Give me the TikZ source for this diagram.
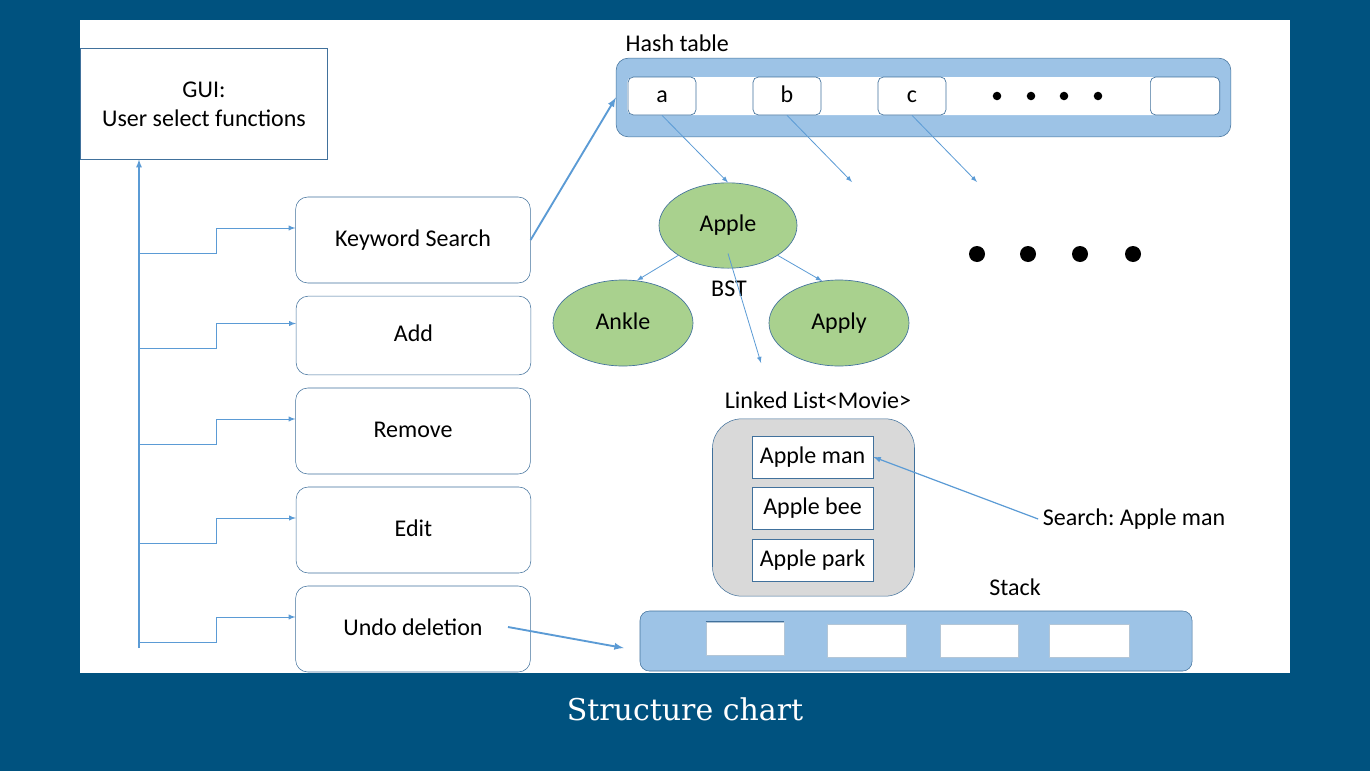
\documentclass[tikz,border=0pt]{standalone}
\usepackage{fontspec}
\setmainfont{Carlito}
\newfontfamily\slabfont{DejaVu Serif}
\usetikzlibrary{shapes.geometric, arrows, positioning, calc}
\definecolor{slideblue}{RGB}{0, 82, 127}
\definecolor{lineblue}{RGB}{91, 155, 213}
\definecolor{edgeblue}{RGB}{65, 113, 156}
\definecolor{tableblue}{RGB}{157, 195, 230}
\definecolor{leafgreen}{RGB}{169, 209, 142}
\definecolor{listgray}{RGB}{217, 217, 217}
\frenchspacing

\begin{document}
\begin{tikzpicture}[x=0.75pt, y=-0.75pt,
    every node/.style={font=\fontsize{18}{22}\selectfont},
    even/.style={text height=12.5pt, text depth=3pt},
    func/.style={rectangle, rounded corners=9pt, draw=edgeblue, fill=white, minimum width=176pt, minimum height=64.5pt, inner sep=0pt, even},
    cell/.style={rectangle, rounded corners=4pt, draw=edgeblue, line width=0.5pt, fill=white, minimum width=51pt, minimum height=28.5pt, inner sep=0pt, even},
    leaf/.style={ellipse, draw=edgeblue, line width=0.5pt, fill=leafgreen, minimum width=105pt, minimum height=64.5pt, inner sep=0pt, even},
    item/.style={rectangle, draw=edgeblue, fill=white, minimum width=91pt, minimum height=31.5pt, inner sep=0pt, even},
    slot/.style={rectangle, draw=edgeblue!40, fill=white, minimum width=59pt, minimum height=25pt, inner sep=0pt},
    branch/.style={-latex, lineblue, line width=0.75pt},
    arrow/.style={-latex, lineblue, line width=0.6pt},
    thickarrow/.style={-latex, lineblue, line width=1.4pt}
]
    % slide
    \fill[slideblue] (0,0) rectangle (1370,771);
    \fill[white] (80,20) rectangle (1290,673);
    \node[text=white, font=\slabfont\fontsize{22.5}{26}\selectfont] (title) at (685,709) {Structure chart};

    % menu
    \node[rectangle, draw=edgeblue, minimum width=185pt, minimum height=83pt, align=center] (gui) at (204,104) {GUI:\\User select functions};
    \node[func] (kw) at (413,240) {Keyword Search};
    \node[func, minimum height=59pt] (add) at (413.5,335.5) {Add};
    \node[func] (remove) at (413,431) {Remove};
    \node[func] (edit) at (413.5,530) {Edit};
    \node[func] (undo) at (413,629) {Undo deletion};

    \coordinate (trunk) at (139,648);
    \draw[branch, line width=1pt] (trunk) -- (trunk |- gui.south);
    \foreach \n in {kw, add, remove, edit, undo} {
        \coordinate (\n-lo) at ($(\n.west)+(0,13)$);
        \coordinate (\n-up) at ($(\n.west)+(0,-12)$);
        \draw[branch] (trunk |- \n-lo) -| ($(\n-up)+(-79,0)$) -- (\n-up);
    }

    % hash table
    \node[anchor=west] (hashlabel) at (621,43) {Hash table};
    \node[rectangle, rounded corners=9pt, draw=edgeblue, fill=tableblue, minimum width=461pt, minimum height=59pt] (hash) at (923.5,97.5) {};
    \node[rectangle, rounded corners=4pt, fill=white, minimum width=443pt, minimum height=28.5pt] (strip) at (922.5,96) {};
    \node[cell] (ca) at (662,96) {a};
    \node[cell] (cb) at (787,96) {b};
    \node[cell] (cc) at (912,96) {c};
    \node[cell, minimum width=52pt] (clast) at (1185,96) {};
    \foreach \x in {997, 1031, 1064, 1098}
        \fill (\x,96) circle (3.2pt);

    % BST
    \node[leaf, minimum width=103.5pt, minimum height=64pt] (apple) at (728,225.5) {Apple};
    \node[leaf] (ankle) at (623,323) {Ankle};
    \node[leaf] (apply) at (839,323) {Apply};
    \node (bst) at (729,289) {BST};
    \foreach \x in {977, 1028, 1080, 1133}
        \fill (\x,254) circle (6pt);

    \coordinate (bend) at (852,182);
    \coordinate (cend) at (977,182);
    \coordinate (listend) at (761,363);
    \draw[arrow] (ca.south) -- (apple.north);
    \draw[arrow] (cb.south) -- (bend);
    \draw[arrow] (cc.south) -- (cend);
    \draw[arrow] (apple.211) -- (ankle.72);
    \draw[arrow] (apple.329) -- (apply.112);
    \draw[arrow] ($(apple.south)+(0,-15)$) -- (listend);

    % linked list
    \node (listlabel) at (818,400) {Linked List<Movie>};
    \node[rectangle, rounded corners=22pt, draw=edgeblue, fill=listgray, minimum width=151.5pt, minimum height=133pt] (list) at (813.5,507.5) {};
    \node[item] (man) at (812.5,457) {Apple man};
    \node[item] (bee) at (812.5,508) {Apple bee};
    \node[item] (park) at (812.5,560) {Apple park};
    \node (search) at (1134,519) {Search: Apple man};
    \draw[arrow, line width=0.9pt] (search.west) -- (man.east);

    % stack
    \node (stacklabel) at (1015,587) {Stack};
    \node[rectangle, rounded corners=7pt, draw=edgeblue, fill=tableblue, minimum width=414pt, minimum height=45pt] (stack) at (916,641) {};
    \node[slot, minimum width=58.5pt] (s1) at (745,638.5) {};
    \draw[edgeblue, line width=0.9pt] (s1.north west) -- (s1.north east);
    \node[slot] (s2) at (866.5,640.5) {};
    \node[slot, minimum width=58.5pt] (s3) at (979,640.5) {};
    \node[slot, minimum width=60pt] (s4) at (1089,640.5) {};

    % links out of the menu
    \coordinate (undostart) at (508,627);
    \draw[thickarrow] (kw.east) -- (hash.west);
    \draw[thickarrow] (undostart) -- ($(stack.west)+(-16,7)$);
\end{tikzpicture}
\end{document}
